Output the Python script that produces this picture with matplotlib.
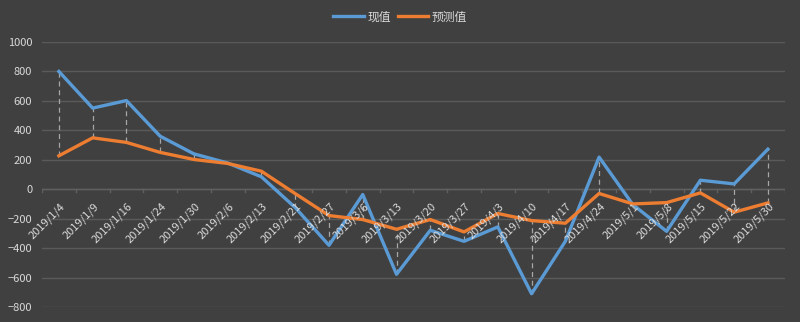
import matplotlib.pyplot as plt
import numpy as np

plt.rcParams['font.family'] = ['Noto Sans CJK SC', 'DejaVu Sans']

dates = ["2019/1/4", "2019/1/9", "2019/1/16", "2019/1/24", "2019/1/30", "2019/2/6",
         "2019/2/13", "2019/2/21", "2019/2/27", "2019/3/6", "2019/3/13", "2019/3/20",
         "2019/3/27", "2019/4/3", "2019/4/10", "2019/4/17", "2019/4/24", "2019/5/1",
         "2019/5/8", "2019/5/15", "2019/5/22", "2019/5/30"]
actual = [800, 551, 602, 360, 240, 178, 84, -125, -381, -36, -578, -279,
          -354, -256, -710, -354, 218, -105, -286, 61, 36, 272]
predicted = [227, 349, 318, 250, 202, 175, 122, -30, -179, -206, -272, -206,
             -290, -165, -213, -231, -29, -100, -91, -25, -156, -93]

bg = '#404040'
txt = '#d9d9d9'
grid = '#5a5a5a'

fig = plt.figure(figsize=(8, 3.22), dpi=100, facecolor=bg)
ax = fig.add_axes([0.0525, 0.0466, 0.9285, 0.823], facecolor=bg)

x = np.arange(len(dates))

# dashed connectors between the two series
ax.vlines(x, np.minimum(actual, predicted), np.maximum(actual, predicted),
          colors='#a6a6a6', linestyles=(0, (4, 3)), linewidth=0.9, zorder=2)

ax.plot(x, actual, color='#5b9bd5', linewidth=2.4, label='现值', zorder=3,
        solid_joinstyle='round')
ax.plot(x, predicted, color='#ed7d31', linewidth=2.4, label='预测值', zorder=4,
        solid_joinstyle='round')

ax.set_xlim(-0.5, len(dates) - 0.5)
ax.set_ylim(-800, 1000)
ax.set_yticks(range(-800, 1001, 200))
ax.yaxis.grid(True, color=grid, linewidth=1)
ax.set_axisbelow(True)
for s in ax.spines.values():
    s.set_visible(False)
ax.tick_params(axis='y', length=0, colors=txt, labelsize=8, pad=7)
ax.set_xticks([])

# category axis on the zero line
ax.axhline(0, color='#606060', linewidth=1, zorder=1)
for b in np.arange(-0.5, len(dates), 1.0):
    ax.plot([b, b], [0, -22], color='#606060', linewidth=1, zorder=1)
for i, d in enumerate(dates):
    ax.annotate(d, (i, 0), xytext=(0.5, -8.5), textcoords='offset points',
                rotation=45, ha='right', va='top', rotation_mode='anchor',
                color=txt, fontsize=8, zorder=5)

fig.legend(loc='upper center', ncol=2, frameon=False, bbox_to_anchor=(0.5, 1.0),
           labelcolor=txt, fontsize=8.5, handlelength=2.6, columnspacing=0.6,
           handletextpad=0.3)

fig.savefig('out.png', dpi=100, facecolor=bg)
